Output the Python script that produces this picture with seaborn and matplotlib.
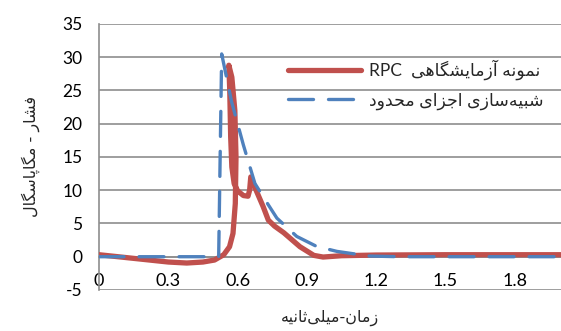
import re
import matplotlib
matplotlib.use("Agg")
import matplotlib.pyplot as plt
import seaborn as sns

# Measured pressure history (RPC specimen)
test_time = [0.0, 0.15, 0.30, 0.38, 0.45, 0.50, 0.54, 0.565, 0.58, 0.59, 0.593,
             0.588, 0.575, 0.562, 0.566, 0.570, 0.575, 0.585, 0.60, 0.625, 0.645,
             0.652, 0.657, 0.68, 0.711, 0.733, 0.76, 0.80, 0.87, 0.93, 0.97,
             1.05, 1.20, 1.50, 2.00]
test_pressure = [0.3, -0.25, -0.8, -0.95, -0.8, -0.5, 0.3, 1.5, 3.5, 8.0, 15.0,
                 22.0, 27.0, 28.8, 25.0, 18.0, 13.5, 11.0, 9.9, 9.2, 9.1,
                 10.0, 12.0, 10.0, 7.5, 5.5, 4.6, 3.6, 1.5, 0.2, -0.05,
                 0.15, 0.25, 0.3, 0.3]

# Finite element simulation
fe_time = [0.0, 0.518, 0.531, 0.574, 0.625, 0.675, 0.733, 0.77, 0.856, 0.942,
           1.03, 1.17, 1.30, 2.00]
fe_pressure = [0.0, 0.0, 30.5, 23.3, 16.8, 11.0, 7.8, 5.8, 3.05, 1.55,
               0.8, 0.1, 0.0, 0.0]

x_ticks = [0.0, 0.3, 0.6, 0.9, 1.2, 1.5, 1.8]
x_tick_labels = ["0", "0.3", "0.6", "0.9", "1.2", "1.5", "1.8"]
y_ticks = [-5, 0, 5, 10, 15, 20, 25, 30, 35]
y_tick_labels = ["-5", "0", "5", "10", "15", "20", "25", "30", "35"]

label_test = "نمونه آزمایشگاهی  RPC"
label_fe = "شبیه\u200cسازی اجزای محدود"
x_title = "زمان-میلی\u200cثانیه"
y_title = "فشار - مگاپاسگال"

# Contextual forms: (isolated, final[, initial, medial])
FORMS = {
    "\u0622": ("\uFE81", "\uFE82"),
    "\u0627": ("\uFE8D", "\uFE8E"),
    "\u0628": ("\uFE8F", "\uFE90", "\uFE91", "\uFE92"),
    "\u067E": ("\uFB56", "\uFB57", "\uFB58", "\uFB59"),
    "\u062A": ("\uFE95", "\uFE96", "\uFE97", "\uFE98"),
    "\u062B": ("\uFE99", "\uFE9A", "\uFE9B", "\uFE9C"),
    "\u062C": ("\uFE9D", "\uFE9E", "\uFE9F", "\uFEA0"),
    "\u062D": ("\uFEA1", "\uFEA2", "\uFEA3", "\uFEA4"),
    "\u062F": ("\uFEA9", "\uFEAA"),
    "\u0631": ("\uFEAD", "\uFEAE"),
    "\u0632": ("\uFEAF", "\uFEB0"),
    "\u0633": ("\uFEB1", "\uFEB2", "\uFEB3", "\uFEB4"),
    "\u0634": ("\uFEB5", "\uFEB6", "\uFEB7", "\uFEB8"),
    "\u0641": ("\uFED1", "\uFED2", "\uFED3", "\uFED4"),
    "\u06A9": ("\uFB8E", "\uFB8F", "\uFB90", "\uFB91"),
    "\u06AF": ("\uFB92", "\uFB93", "\uFB94", "\uFB95"),
    "\u0644": ("\uFEDD", "\uFEDE", "\uFEDF", "\uFEE0"),
    "\u0645": ("\uFEE1", "\uFEE2", "\uFEE3", "\uFEE4"),
    "\u0646": ("\uFEE5", "\uFEE6", "\uFEE7", "\uFEE8"),
    "\u0647": ("\uFEE9", "\uFEEA", "\uFEEB", "\uFEEC"),
    "\u0648": ("\uFEED", "\uFEEE"),
    "\u06CC": ("\uFBFC", "\uFBFD", "\uFBFE", "\uFBFF"),
}


def shape(text):
    text = text.replace("\u064A", "\u06CC").replace("\u0643", "\u06A9")
    out = []
    for i, c in enumerate(text):
        if c not in FORMS:
            if c != "\u200c":
                out.append(c)
            continue
        prev = text[i - 1] if i > 0 else ""
        nxt = text[i + 1] if i < len(text) - 1 else ""
        f = FORMS[c]
        jp = prev in FORMS and len(FORMS[prev]) == 4
        jn = len(f) == 4 and nxt in FORMS
        if jp and jn:
            out.append(f[3])
        elif jp:
            out.append(f[1])
        elif jn:
            out.append(f[2])
        else:
            out.append(f[0])
    return "".join(out)


def rtl(text):
    runs = re.findall(r"[A-Za-z0-9]+|[^A-Za-z0-9]+", shape(text))
    return "".join(r if re.match(r"[A-Za-z0-9]", r) else r[::-1]
                   for r in reversed(runs))


sns.set_theme(style="white")
plt.rcParams["font.family"] = ["Lato", "DejaVu Sans"]

RED = "#C0504D"
BLUE = "#4F81BD"
GRID = "#8E8E8E"

fig = plt.figure(figsize=(5.61, 3.31), dpi=100)
ax = fig.add_axes([0.1765, 0.124, 0.8235, 0.8035])

sns.lineplot(x=test_time, y=test_pressure, ax=ax, color=RED, linewidth=3.8,
             sort=False, estimator=None, solid_capstyle="round",
             solid_joinstyle="round", zorder=3)
sns.lineplot(x=fe_time, y=fe_pressure, ax=ax, color=BLUE, linewidth=2.4,
             sort=False, estimator=None, zorder=4)
red_line, blue_line = ax.lines[0], ax.lines[1]
blue_line.set_dashes([7.5, 4.5])
blue_line.set_dash_capstyle("round")

ax.set_xlim(0, 2.0)
ax.set_ylim(-5, 35)
ax.set_yticks(y_ticks)
ax.set_yticklabels(y_tick_labels)
ax.set_xticks(x_ticks)
ax.set_xticklabels(x_tick_labels)

ax.grid(axis="y", color=GRID, linewidth=1.2, zorder=0)
ax.grid(axis="x", visible=False)
for side in ("top", "right"):
    ax.spines[side].set_visible(False)
ax.spines["left"].set_color(GRID)
ax.spines["left"].set_linewidth(1.2)
ax.spines["bottom"].set_position(("data", 0))
ax.spines["bottom"].set_color(GRID)
ax.spines["bottom"].set_linewidth(1.2)
ax.spines["bottom"].set_zorder(1)

ax.tick_params(axis="x", direction="out", length=4, width=1.2, color=GRID,
               pad=8, labelsize=13, labelcolor="black")
ax.tick_params(axis="y", length=0, pad=12, labelsize=12.5, labelcolor="black")
ax.tick_params(axis="y", which="both", left=False)

ax.set_xlabel(rtl(x_title), fontsize=11.5, family=["DejaVu Sans"])
ax.xaxis.set_label_coords(0.5, -0.075)
ax.set_ylabel(rtl(y_title), fontsize=11.5, family=["DejaVu Sans"])
ax.yaxis.set_label_coords(-0.128, 0.5)

leg = ax.legend([red_line, blue_line], [rtl(label_test), rtl(label_fe)],
                loc="upper left", bbox_to_anchor=(0.375, 0.925), frameon=False,
                handlelength=4.2, handletextpad=0.45, labelspacing=0.7,
                prop={"family": ["Lato", "DejaVu Sans"], "size": 12.5})

fig.savefig("out.png", dpi=100)
